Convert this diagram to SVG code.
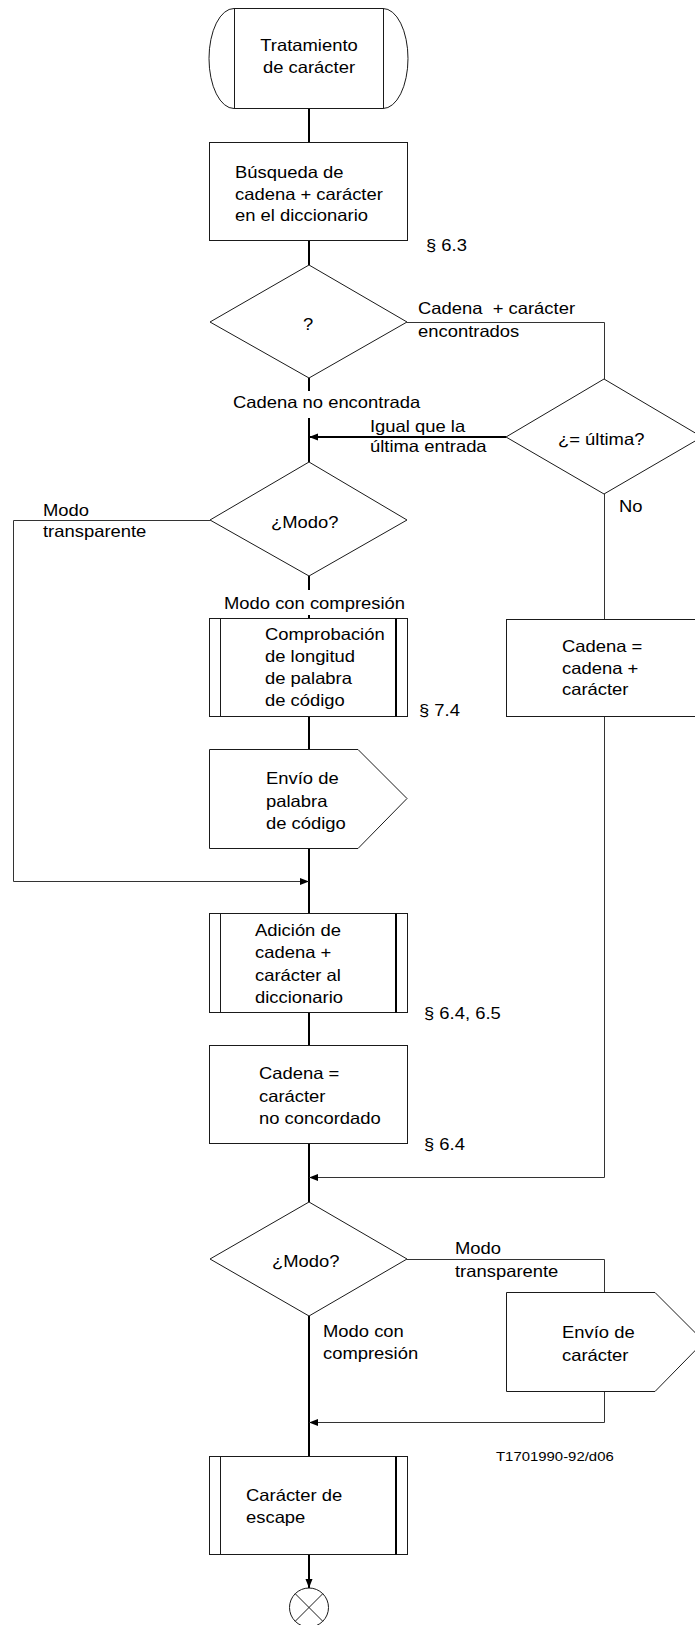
<svg xmlns="http://www.w3.org/2000/svg" width="695" height="1625" viewBox="0 0 695 1625">
  <style>
    .t { font-family: "Liberation Sans", Arial, Helvetica, sans-serif; font-size: 16.3px; fill: #000; }
    .small { font-size: 13.2px; }
    .mid { text-anchor: middle; }
    .shape { fill: #fff; stroke: #1a1a1a; stroke-width: 1; }
    .inner { stroke: #1a1a1a; stroke-width: 1; fill: none; }
    .inner-bold { stroke: #000; stroke-width: 2; fill: none; }
    .spine { stroke: #000; stroke-width: 2; fill: none; }
    .wire { stroke: #333; stroke-width: 1; fill: none; }
    .wire-bold { stroke: #000; stroke-width: 2; fill: none; }
  </style>
  <defs>
    <marker id="arrow" markerUnits="userSpaceOnUse" markerWidth="10" markerHeight="8" refX="9" refY="3.5" orient="auto">
      <path d="M0,0 L9,3.5 L0,7 Z" fill="#000"/>
    </marker>
  </defs>

  <rect width="695" height="1625" fill="#fff"/>

  <!-- connectors -->
  <g id="connectors">
    <!-- main vertical flow -->
    <path class="spine" d="M309,108 V142 M309,240 V265 M309,378 V391 M309,418 V462 M309,576 V590 M309,615 V618 M309,717 V749 M309,848 V913 M309,1013 V1045 M309,1143 V1202 M309,1316 V1456"/>
    <path class="spine" d="M309,1554 V1588" marker-end="url(#arrow)"/>
    <!-- string + character found -->
    <path class="wire" d="M407,322.5 H604.5 V379"/>
    <!-- same as last entry -->
    <path class="wire-bold" d="M506,437 H309" marker-end="url(#arrow)"/>
    <!-- not last -->
    <path class="wire" d="M604.5,494 V619"/>
    <path class="wire" d="M604.5,716 V1177.5 H309" marker-end="url(#arrow)"/>
    <!-- transparent mode bypass -->
    <path class="wire" d="M210,520.5 H13.5 V881.5 H309" marker-end="url(#arrow)"/>
    <!-- transparent mode: send character -->
    <path class="wire" d="M407,1259.5 H604.5 V1292"/>
    <path class="wire" d="M604.5,1391 V1422.5 H309" marker-end="url(#arrow)"/>
  </g>

  <!-- start -->
  <g id="start">
    <path class="shape" d="M234,8.5 H383 A25,50 0 0 1 383,108.5 H234 A25,50 0 0 1 234,8.5 Z"/>
    <path class="inner" d="M234.5,8.5 V108.5 M383.5,8.5 V108.5"/>
    <text class="t mid" transform="translate(309 0) scale(1.13 1)"><tspan x="0" y="51">Tratamiento</tspan><tspan x="0" y="73">de carácter</tspan></text>
  </g>

  <!-- dictionary search -->
  <g id="search">
    <rect class="shape" x="209.5" y="142.5" width="198" height="98"/>
    <text class="t" transform="translate(235 0) scale(1.13 1)"><tspan x="0" y="178">Búsqueda de</tspan><tspan x="0" y="200">cadena + carácter</tspan><tspan x="0" y="221">en el diccionario</tspan></text>
    <text class="t" transform="translate(426 0) scale(1.13 1)" x="0" y="251">§ 6.3</text>
  </g>

  <!-- found? -->
  <g id="found">
    <polygon class="shape" points="309,265 407,322 309,378 210,322"/>
    <text class="t" transform="translate(303 0) scale(1.13 1)" x="0" y="330">?</text>
    <text class="t" transform="translate(418 0) scale(1.13 1)"><tspan x="0" y="314">Cadena&#160; + carácter</tspan><tspan x="0" y="337">encontrados</tspan></text>
    <text class="t" transform="translate(233 0) scale(1.13 1)" x="0" y="408">Cadena no encontrada</text>
  </g>

  <!-- last entry? -->
  <g id="last">
    <polygon class="shape" points="604,379 702,437 604,494 506,437"/>
    <text class="t" transform="translate(558 0) scale(1.13 1)" x="0" y="445">¿= última?</text>
    <text class="t" transform="translate(370 0) scale(1.13 1)"><tspan x="0" y="432">Igual que la</tspan><tspan x="0" y="452">última entrada</tspan></text>
    <text class="t" transform="translate(619 0) scale(1.13 1)" x="0" y="512">No</text>
  </g>

  <!-- mode? (first) -->
  <g id="mode1">
    <polygon class="shape" points="309,462 407,520 309,576 210,520"/>
    <text class="t" transform="translate(271 0) scale(1.13 1)" x="0" y="528">¿Modo?</text>
    <text class="t" transform="translate(43 0) scale(1.13 1)"><tspan x="0" y="516">Modo</tspan><tspan x="0" y="537">transparente</tspan></text>
    <text class="t" transform="translate(224 0) scale(1.13 1)" x="0" y="609">Modo con compresión</text>
  </g>

  <!-- codeword length check -->
  <g id="lengthCheck">
    <rect class="shape" x="209.5" y="618.5" width="198" height="98"/>
    <path class="inner" d="M220.5,618.5 V716.5"/>
    <path class="inner-bold" d="M396,618.5 V716.5"/>
    <text class="t" transform="translate(265 0) scale(1.13 1)"><tspan x="0" y="640">Comprobación</tspan><tspan x="0" y="662">de longitud</tspan><tspan x="0" y="684">de palabra</tspan><tspan x="0" y="706">de código</tspan></text>
    <text class="t" transform="translate(419 0) scale(1.13 1)" x="0" y="716">§ 7.4</text>
  </g>

  <!-- string = string + character -->
  <g id="extend">
    <rect class="shape" x="506.5" y="619.5" width="198" height="97"/>
    <text class="t" transform="translate(562 0) scale(1.13 1)"><tspan x="0" y="652">Cadena =</tspan><tspan x="0" y="674">cadena +</tspan><tspan x="0" y="695">carácter</tspan></text>
  </g>

  <!-- send codeword -->
  <g id="sendCodeword">
    <polygon class="shape" points="209.5,749.5 358,749.5 407,798.5 358,848.5 209.5,848.5"/>
    <text class="t" transform="translate(266 0) scale(1.13 1)"><tspan x="0" y="784">Envío de</tspan><tspan x="0" y="807">palabra</tspan><tspan x="0" y="829">de código</tspan></text>
  </g>

  <!-- add to dictionary -->
  <g id="addEntry">
    <rect class="shape" x="209.5" y="913.5" width="198" height="99"/>
    <path class="inner" d="M220.5,913.5 V1012.5"/>
    <path class="inner-bold" d="M396,913.5 V1012.5"/>
    <text class="t" transform="translate(255 0) scale(1.13 1)"><tspan x="0" y="936">Adición de</tspan><tspan x="0" y="958">cadena +</tspan><tspan x="0" y="981">carácter al</tspan><tspan x="0" y="1003">diccionario</tspan></text>
    <text class="t" transform="translate(424 0) scale(1.13 1)" x="0" y="1019">§ 6.4, 6.5</text>
  </g>

  <!-- string = unmatched character -->
  <g id="reset">
    <rect class="shape" x="209.5" y="1045.5" width="198" height="98"/>
    <text class="t" transform="translate(259 0) scale(1.13 1)"><tspan x="0" y="1079">Cadena =</tspan><tspan x="0" y="1102">carácter</tspan><tspan x="0" y="1124">no concordado</tspan></text>
    <text class="t" transform="translate(424 0) scale(1.13 1)" x="0" y="1150">§ 6.4</text>
  </g>

  <!-- mode? (second) -->
  <g id="mode2">
    <polygon class="shape" points="309,1202 407,1259 309,1316 210,1259"/>
    <text class="t" transform="translate(272 0) scale(1.13 1)" x="0" y="1267">¿Modo?</text>
    <text class="t" transform="translate(455 0) scale(1.13 1)"><tspan x="0" y="1254">Modo</tspan><tspan x="0" y="1277">transparente</tspan></text>
    <text class="t" transform="translate(323 0) scale(1.13 1)"><tspan x="0" y="1337">Modo con</tspan><tspan x="0" y="1359">compresión</tspan></text>
  </g>

  <!-- send character -->
  <g id="sendChar">
    <polygon class="shape" points="506.5,1292.5 655,1292.5 704,1341.5 655,1391.5 506.5,1391.5"/>
    <text class="t" transform="translate(562 0) scale(1.13 1)"><tspan x="0" y="1338">Envío de</tspan><tspan x="0" y="1361">carácter</tspan></text>
  </g>

  <text class="t small" transform="translate(496 0) scale(1.13 1)" x="0" y="1461">T1701990-92/d06</text>

  <!-- escape character -->
  <g id="escape">
    <rect class="shape" x="209.5" y="1456.5" width="198" height="98"/>
    <path class="inner" d="M220.5,1456.5 V1554.5"/>
    <path class="inner-bold" d="M396,1456.5 V1554.5"/>
    <text class="t" transform="translate(246 0) scale(1.13 1)"><tspan x="0" y="1501">Carácter de</tspan><tspan x="0" y="1523">escape</tspan></text>
  </g>

  <!-- connector to next page -->
  <g id="end">
    <circle class="shape" cx="309" cy="1607.5" r="19.5"/>
    <path class="inner" d="M295.2,1593.7 L322.8,1621.3 M322.8,1593.7 L295.2,1621.3"/>
  </g>
</svg>
